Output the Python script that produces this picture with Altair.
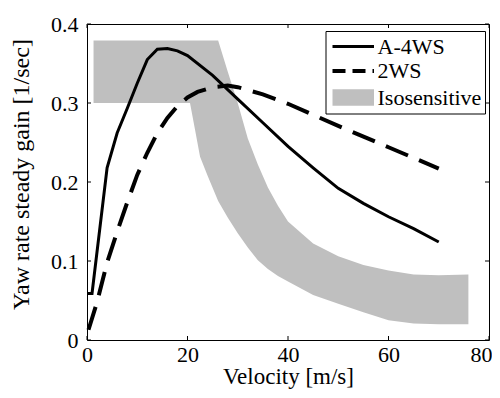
import altair as alt
import pandas as pd

# ---- data ----
a4ws_v = [0.2, 1, 4, 6, 8, 10, 12, 14, 16, 18, 20, 25, 30, 35, 40, 45, 50, 55, 60, 65, 70]
a4ws_g = [0.059, 0.059, 0.218, 0.262, 0.293, 0.325, 0.355, 0.368, 0.369, 0.366, 0.360,
          0.335, 0.305, 0.275, 0.245, 0.218, 0.192, 0.173, 0.156, 0.141, 0.124]

ws2_v = [0.3, 2, 4, 6, 8, 10, 12, 14, 16, 18, 20, 22, 25, 28, 30, 35, 40, 50, 60, 70]
ws2_g = [0.013, 0.048, 0.098, 0.137, 0.174, 0.209, 0.237, 0.262, 0.281, 0.296, 0.307,
         0.314, 0.320, 0.322, 0.320, 0.311, 0.299, 0.271, 0.244, 0.217]

iso_v = [1.3, 20.5, 21.5, 22.5, 24, 26.1, 28, 30, 32, 34, 36, 38, 40, 45, 50, 55, 60, 65, 70, 75.9]
iso_hi = [0.379, 0.379, 0.379, 0.379, 0.379, 0.379, 0.340, 0.300, 0.255, 0.222, 0.193,
          0.170, 0.150, 0.122, 0.106, 0.095, 0.088, 0.083, 0.082, 0.083]
iso_lo = [0.300, 0.300, 0.266, 0.232, 0.208, 0.176, 0.155, 0.135, 0.117, 0.101, 0.090,
          0.081, 0.074, 0.057, 0.046, 0.035, 0.025, 0.021, 0.020, 0.020]

x_ticks = [0, 20, 40, 60, 80]
y_ticks = [0, 0.1, 0.2, 0.3, 0.4]
legend_labels = ["A-4WS", "2WS", "Isosensitive"]

x_title = "Velocity [m/s]"
y_title = "Yaw rate steady gain [1/sec]"

FONT = "Liberation Serif"
GRAY = "#bfbfbf"
W, H = 402, 316

xs = alt.Scale(domain=[0, 80], nice=False, zero=False)
ys = alt.Scale(domain=[0, 0.4], nice=False, zero=False)

iso_df = pd.DataFrame({"v": iso_v, "g": iso_hi, "lo": iso_lo})
a4_df = pd.DataFrame({"v": a4ws_v, "g": a4ws_g})
w2_df = pd.DataFrame({"v": ws2_v, "g": ws2_g})
xt_df = pd.DataFrame({"v": x_ticks})
yt_df = pd.DataFrame({"g": y_ticks})

x_axis = alt.Axis(values=x_ticks, ticks=False, domain=False, grid=False,
                  labelFont=FONT, labelFontSize=22, labelColor="black", labelPadding=4,
                  labelOffset={"condition": {"test": "datum.value == 80", "value": -8}, "value": 0},
                  titleFont=FONT, titleFontSize=23, titleFontWeight="normal",
                  titleColor="black", titlePadding=0, labelFlush=False)
y_axis = alt.Axis(values=y_ticks, ticks=False, domain=False, grid=False, format="~g",
                  labelFont=FONT, labelFontSize=22, labelColor="black", labelPadding=9,
                  titleFont=FONT, titleFontSize=24, titleFontWeight="normal",
                  titleColor="black", titlePadding=17, titleY=150, labelFlush=False)

X = alt.X("v:Q", scale=xs, axis=x_axis, title=x_title)
Y = alt.Y("g:Q", scale=ys, axis=y_axis, title=y_title)

band = alt.Chart(iso_df).mark_area(color=GRAY, opacity=1, interpolate="linear").encode(
    x=X, y=Y, y2="lo:Q",
)

line_a4 = alt.Chart(a4_df).mark_line(color="black", strokeWidth=3).encode(x=X, y=Y)

line_w2 = alt.Chart(w2_df).mark_line(color="black", strokeWidth=4, strokeDash=[24, 12]).encode(
    x=X, y=Y)

TL = 4
tick_top = alt.Chart(xt_df).mark_rule(color="black", strokeWidth=1).encode(
    x=X, y=alt.value(0), y2=alt.value(TL))
tick_bot = alt.Chart(xt_df).mark_rule(color="black", strokeWidth=1).encode(
    x=X, y=alt.value(H), y2=alt.value(H - TL))
tick_left = alt.Chart(yt_df).mark_rule(color="black", strokeWidth=1).encode(
    y=Y, x=alt.value(0), x2=alt.value(TL))
tick_right = alt.Chart(yt_df).mark_rule(color="black", strokeWidth=1).encode(
    y=Y, x=alt.value(W), x2=alt.value(W - TL))

# ---- legend ----
one = pd.DataFrame({"k": [0]})
lx0, lx1, ly0, ly1 = 239, 398.5, 7.5, 90
sx0, sx1, tx = 245.5, 287, 290.5
ey = [22.5, 47, 73.5]

leg_box = alt.Chart(one).mark_rect(fill="white", stroke="black", strokeWidth=1).encode(
    x=alt.value(lx0), x2=alt.value(lx1), y=alt.value(ly0), y2=alt.value(ly1))
leg_solid = alt.Chart(one).mark_rule(color="black", strokeWidth=3).encode(
    x=alt.value(sx0), x2=alt.value(sx1), y=alt.value(ey[0]))
leg_dash = alt.Chart(one).mark_rule(color="black", strokeWidth=4, strokeDash=[13, 7]).encode(
    x=alt.value(sx0), x2=alt.value(sx1), y=alt.value(ey[1]))
leg_rect = alt.Chart(one).mark_rect(fill=GRAY).encode(
    x=alt.value(sx0), x2=alt.value(sx1), y=alt.value(ey[2] - 8.3), y2=alt.value(ey[2] + 8.3))
leg_texts = [
    alt.Chart(pd.DataFrame({"label": [lab]})).mark_text(
        font=FONT, fontSize=22, align="left", baseline="middle", color="black").encode(
        x=alt.value(tx), y=alt.value(yy), text="label:N")
    for lab, yy in zip(legend_labels, ey)
]

chart = alt.layer(
    band, line_a4, line_w2, tick_top, tick_bot, tick_left, tick_right,
    leg_box, leg_solid, leg_dash, leg_rect, *leg_texts
).properties(
    width=W, height=H,
    padding={"left": 79, "top": 16, "right": 3, "bottom": 50},
    autosize=alt.AutoSizeParams(type="none"),
    background="white",
).configure_view(stroke="black", strokeWidth=1)

chart.save("out.html", embed_options={"renderer": "svg", "actions": False})
